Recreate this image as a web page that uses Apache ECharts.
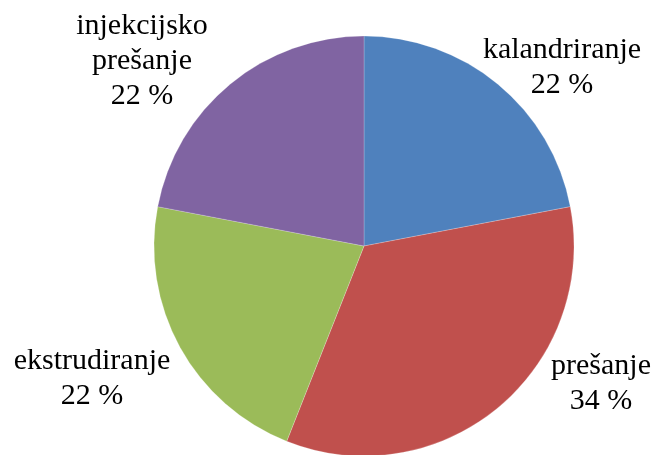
<!DOCTYPE html>
<html>
<head>
<meta charset="utf-8">
<script src="https://cdn.jsdelivr.net/npm/echarts@6/dist/echarts.min.js"></script>
<style>
  html, body { margin: 0; padding: 0; background: #fff; }
  #chart { width: 656px; height: 455px; }
</style>
</head>
<body>
<div id="chart"></div>
<script>
// Share of processing methods (percent)
const categories = ['kalandriranje', 'prešanje', 'ekstrudiranje', 'injekcijsko prešanje'];
const shares = [22, 34, 22, 22];
const colors = ['#4F81BD', '#C0504D', '#9BBB59', '#8064A2'];

// Label anchor points (centre of each label block), in pixels
const labelSpots = [
  [562, 68],
  [601, 384],
  [92, 379],
  [142, 61]
];

const chart = echarts.init(document.getElementById('chart'), null, { renderer: 'canvas' });

chart.setOption({
  animation: false,
  series: [{
    type: 'pie',
    center: [364, 246],
    radius: 210,
    startAngle: 90,
    clockwise: true,
    data: categories.map((name, i) => ({
      name: name,
      value: shares[i],
      itemStyle: { color: colors[i] }
    })),
    itemStyle: { borderColor: 'rgba(255,255,255,0.35)', borderWidth: 0.6 },
    label: {
      show: true,
      position: 'outside',
      fontFamily: '"Liberation Serif", "Times New Roman", serif',
      fontSize: 30,
      lineHeight: 35,
      color: '#000',
      align: 'center',
      width: 300,
      overflow: 'none',
      formatter: p => p.name.replace(' ', '\n') + '\n' + p.value + ' %'
    },
    labelLine: { show: false },
    labelLayout: p => ({
      x: labelSpots[p.dataIndex][0],
      y: labelSpots[p.dataIndex][1],
      align: 'center',
      verticalAlign: 'middle'
    }),
    emphasis: { disabled: true }
  }]
});
</script>
</body>
</html>
